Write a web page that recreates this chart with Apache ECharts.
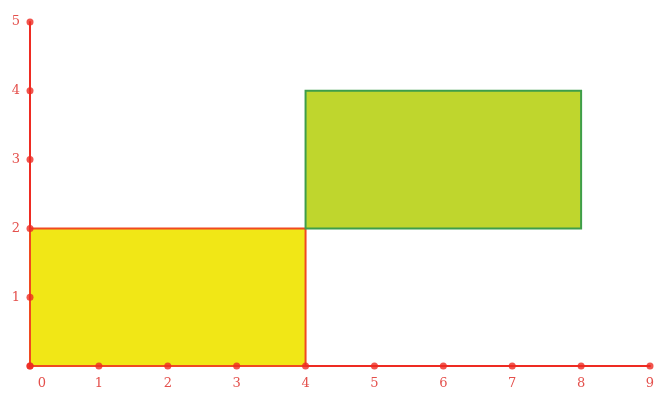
<!DOCTYPE html>
<html><head><meta charset="utf-8">
<script src="https://cdn.jsdelivr.net/npm/echarts@6/dist/echarts.min.js"></script>
<style>html,body{margin:0;padding:0;background:#fff}#c{width:665px;height:402px}</style>
</head><body><div id="c"></div>
<script>
var xTicks = [0,1,2,3,4,5,6,7,8,9];
var yTicks = [0,1,2,3,4,5];
// rectangles: [x0, y0, x1, y1]
var rectYellow = [0,0,4,2];
var rectGreen = [4,2,8,4];

var chart = echarts.init(document.getElementById('c'));
var red = '#ee2b22';
var labelColor = '#e4504c';
var dots = xTicks.map(function(v){return [v,0];}).concat(yTicks.map(function(v){return [0,v];}));

function rectRender(fill, stroke){
  return function(params, api){
    var p0 = api.coord([api.value(0), api.value(1)]);
    var p1 = api.coord([api.value(2), api.value(3)]);
    return {type:'rect', shape:{x:p0[0], y:p1[1], width:p1[0]-p0[0], height:p0[1]-p1[1]},
      style:{fill:fill, stroke:stroke, lineWidth:2}};
  };
}

chart.setOption({
  animation:false,
  grid:{left:30,right:15,top:22,bottom:36},
  xAxis:{type:'value',min:0,max:9,interval:1,
    axisLine:{lineStyle:{color:red,width:2}},
    axisTick:{show:false},splitLine:{show:false},
    axisLabel:{color:labelColor,fontFamily:'DejaVu Serif',fontSize:13,margin:11,
      formatter:function(v){return v===0?'{z|0}':String(v);},
      rich:{z:{color:labelColor,fontFamily:'DejaVu Serif',fontSize:13,padding:[0,0,0,24]}}}},
  yAxis:{type:'value',min:0,max:5,interval:1,
    axisLine:{lineStyle:{color:red,width:2}},
    axisTick:{show:false},splitLine:{show:false},
    axisLabel:{color:labelColor,fontFamily:'DejaVu Serif',fontSize:13,margin:10,
      formatter:function(v){return v===0?'':String(v);}}},
  series:[
    {type:'custom',renderItem:rectRender('#f1e716','#f04a20'),data:[rectYellow],z:1},
    {type:'custom',renderItem:rectRender('#bfd62d','#3e9e4a'),data:[rectGreen],z:1},
    {type:'scatter',data:dots,symbolSize:7,itemStyle:{color:red},z:5,silent:true}
  ]
});
</script></body></html>
